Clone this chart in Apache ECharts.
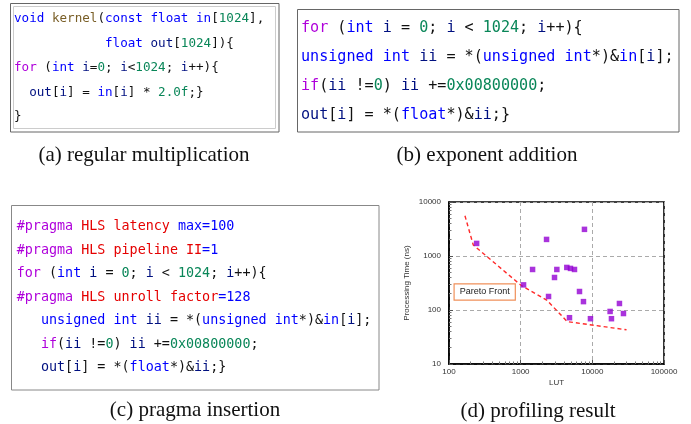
<!DOCTYPE html>
<html>
<head>
<meta charset="utf-8">
<script src="https://cdn.jsdelivr.net/npm/echarts@6/dist/echarts.min.js"></script>
<style>
html,body{margin:0;padding:0;background:#fff;}
#c{width:691px;height:424px;}
</style>
</head>
<body>
<div id="c"></div>
<script>
// ---- Data ----
const codeA = [
  "{t|void} {f|kernel}({t|const} {t|float} {t|in}[{n|1024}],",
  "            {t|float} {v|out}[{n|1024}]){",
  "{k|for} ({t|int} {v|i}={n|0}; {v|i}<{n|1024}; {v|i}++){",
  "  {v|out}[{v|i}] = {t|in}[{v|i}] * {n|2.0f};}",
  "}"
];
const codeB = [
  "{k|for} ({t|int} {v|i} = {n|0}; {v|i} < {n|1024}; {v|i}++){",
  "{t|unsigned} {t|int} {v|ii} = *({t|unsigned} {t|int}*)&{t|in}[{v|i}];",
  "{k|if}({v|ii} !={n|0}) {v|ii} +={n|0x00800000};",
  "{v|out}[{v|i}] = *({t|float}*)&{v|ii};}"
];
const codeC = [
  "{k|#pragma} {r|HLS latency} {t|max=100}",
  "{k|#pragma} {r|HLS pipeline} {r|II}{t|=1}",
  "{k|for} ({t|int} {v|i} = {n|0}; {v|i} < {n|1024}; {v|i}++){",
  "{k|#pragma} {r|HLS unroll factor}{t|=128}",
  "   {t|unsigned} {t|int} {v|ii} = *({t|unsigned} {t|int}*)&{t|in}[{v|i}];",
  "   {k|if}({v|ii} !={n|0}) {v|ii} +={n|0x00800000};",
  "   {v|out}[{v|i}] = *({t|float}*)&{v|ii};}"
];
const captions = ["(a) regular multiplication", "(b) exponent addition", "(c) pragma insertion", "(d) profiling result"];

const lut  = [243, 1097, 1466, 2297, 2449, 2966, 3197, 4405, 4955, 4800, 5637, 6621, 7520, 7766, 9413, 17700, 18480, 23890, 27180];
const time = [1710, 292, 563, 2028, 178, 400, 563, 614, 589, 72, 563, 220, 143, 3114, 69, 94, 69, 132, 86];
const paretoLut  = [167, 218, 1000, 2306, 4467, 30000];
const paretoTime = [5570, 1600, 290, 153, 61, 43];
const xTicks = [100, 1000, 10000, 100000];
const yTicks = [10, 100, 1000, 10000];

// ---- Styles ----
const rich = {
  k: {fill: '#AF00DB'},
  t: {fill: '#0000FF'},
  f: {fill: '#795E26'},
  v: {fill: '#001080'},
  n: {fill: '#098658'},
  r: {fill: '#E50000'}
};
const mono = "'DejaVu Sans Mono', monospace";

function codeBlock(lines, x, ys, size) {
  return lines.map((s, i) => ({
    type: 'text', x: x, y: ys[i], silent: true,
    style: {
      text: s, fill: '#111', fontFamily: mono, fontSize: size,
      verticalAlign: 'middle', align: 'left',
      rich: Object.fromEntries(Object.entries(rich).map(([k, v]) => [k, Object.assign({fontFamily: mono, fontSize: size}, v)]))
    }
  }));
}
function box(x, y, w, h, color) {
  return {type: 'rect', silent: true, shape: {x: x, y: y, width: w, height: h},
    style: {fill: 'none', stroke: color, lineWidth: 1}};
}
function caption(t, x, y) {
  return {type: 'text', x: x, y: y, silent: true,
    style: {text: t, fill: '#111', fontFamily: "'Liberation Serif', serif", fontSize: 21,
      align: 'center', verticalAlign: 'middle'}};
}

const graphics = [].concat(
  [box(10.5, 3.5, 268.5, 128.5, '#666'), box(13.5, 6.5, 262, 122, '#ccc')],
  codeBlock(codeA, 14, [19, 43.5, 68, 92.5, 117], 12.6),
  [box(297.5, 9.5, 381.5, 122.5, '#666')],
  codeBlock(codeB, 301, [28, 57, 86, 115], 15.1),
  [box(11.5, 205.5, 367.5, 184.5, '#888')],
  codeBlock(codeC, 16.7, [227, 251, 274, 298, 321, 344.5, 368], 13.4),
  [caption(captions[0], 144, 155), caption(captions[1], 487, 155),
   caption(captions[2], 195, 410), caption(captions[3], 538, 411)],
  [{type: 'text', x: 484.7, y: 292, z: 100, silent: true,
    style: {text: 'Pareto Front', fontFamily: "'Liberation Sans', Arial, sans-serif", fontSize: 9, fill: '#222',
      align: 'center', verticalAlign: 'middle', backgroundColor: '#fff',
      borderColor: '#F0905A', borderWidth: 1.2, padding: [3, 5]}}]
);

const axisFont = "'Liberation Sans', Arial, sans-serif";
const chart = echarts.init(document.getElementById('c'), null, {renderer: 'canvas'});
chart.setOption({
  animation: false,
  backgroundColor: '#fff',
  grid: {left: 449, top: 202, width: 215, height: 162, show: true, borderColor: '#000', borderWidth: 1.6, backgroundColor: 'transparent'},
  xAxis: {
    type: 'log', logBase: 10, min: xTicks[0], max: xTicks[xTicks.length - 1],
    name: 'LUT', nameLocation: 'middle', nameGap: 15,
    nameTextStyle: {fontFamily: axisFont, fontSize: 8, color: '#333'},
    axisLine: {show: true, lineStyle: {color: '#000', width: 1.6}},
    axisTick: {show: true, inside: true, length: 4, lineStyle: {color: '#555'}},
    minorTick: {show: true, splitNumber: 9, length: 2.5, lineStyle: {color: '#777'}},
    axisLabel: {fontFamily: axisFont, fontSize: 8, color: '#333', margin: 4, formatter: v => String(Math.round(v))},
    splitLine: {show: true, lineStyle: {color: '#aaa', type: [4, 3], width: 1}}
  },
  yAxis: {
    type: 'log', logBase: 10, min: yTicks[0], max: yTicks[yTicks.length - 1],
    name: 'Processing Time (ns)', nameLocation: 'middle', nameGap: 38, nameRotate: 90,
    nameTextStyle: {fontFamily: axisFont, fontSize: 8, color: '#333'},
    axisLine: {show: true, lineStyle: {color: '#000', width: 1.6}},
    axisTick: {show: true, inside: true, length: 4, lineStyle: {color: '#555'}},
    minorTick: {show: true, splitNumber: 9, length: 2.5, lineStyle: {color: '#777'}},
    axisLabel: {fontFamily: axisFont, fontSize: 8, color: '#333', margin: 8, formatter: v => String(Math.round(v))},
    splitLine: {show: true, lineStyle: {color: '#aaa', type: [4, 3], width: 1}}
  },
  series: [
    {type: 'line', data: paretoLut.map((x, i) => [x, paretoTime[i]]), symbol: 'none',
      lineStyle: {color: '#FF2A2A', width: 1.4, type: [4, 3]}, z: 2, silent: true},
    {type: 'scatter', data: lut.map((x, i) => [x, time[i]]), symbol: 'rect', symbolSize: 5.5,
      itemStyle: {color: '#9400D3'}, z: 3, silent: true}
  ],
  graphic: graphics
});
</script>
</body>
</html>
